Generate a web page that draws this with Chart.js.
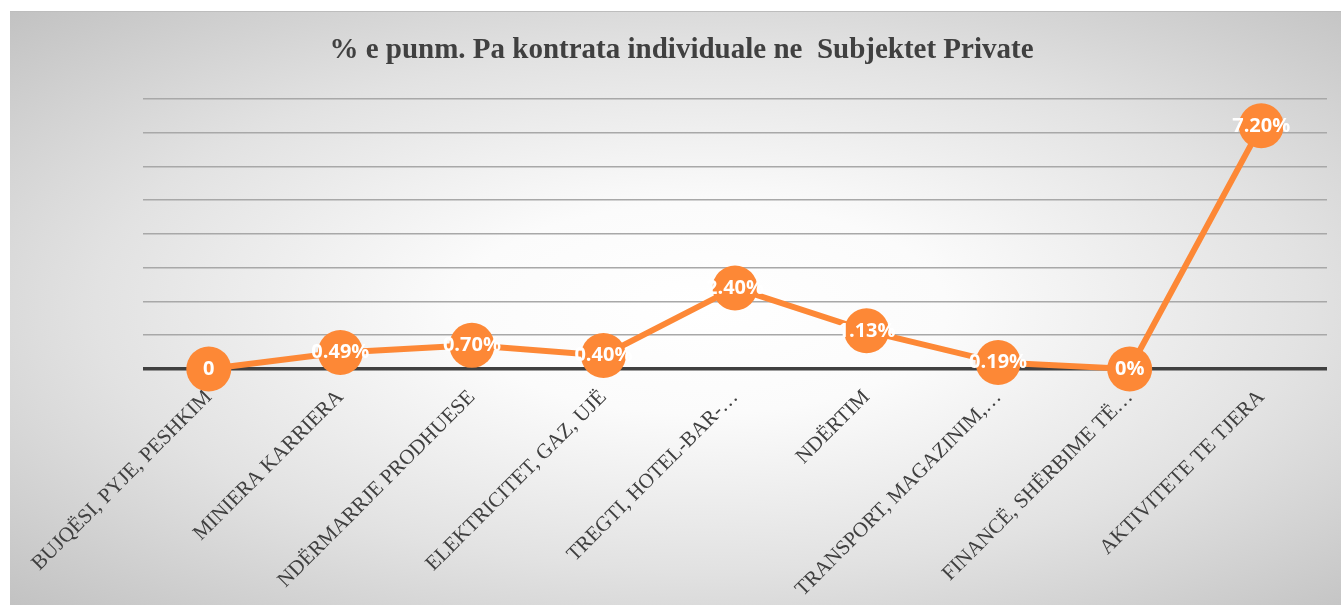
<!DOCTYPE html>
<html>
<head>
<meta charset="utf-8">
<script src="https://cdn.jsdelivr.net/npm/chart.js@4.4.1/dist/chart.umd.min.js"></script>
<style>
  html, body { margin: 0; padding: 0; background: #ffffff; }
  #wrap {
    position: absolute; left: 10px; top: 11px; width: 1331px; height: 594px;
    border-top: 1px solid #bdbdbd;
    background: radial-gradient(ellipse at 52% 50%, #ffffff 0%, #fbfbfb 25%, #e2e2e2 62%, #c2c2c2 100%);
  }
  canvas { display: block; }
</style>
</head>
<body>
<div id="wrap"><canvas id="c" width="1331" height="594"></canvas></div>
<script>
const titleText = '% e punm. Pa kontrata individuale ne  Subjektet Private';
const categories = [
  'BUJQËSI, PYJE, PESHKIM',
  'MINIERA KARRIERA',
  'NDËRMARRJE PRODHUESE',
  'ELEKTRICITET, GAZ, UJË',
  'TREGTI, HOTEL-BAR-…',
  'NDËRTIM',
  'TRANSPORT, MAGAZINIM,…',
  'FINANCË, SHËRBIME TË…',
  'AKTIVITETE TE TJERA'
];
const values = [0, 0.49, 0.70, 0.40, 2.40, 1.13, 0.19, 0, 7.20];
const valueLabels = ['0', '0.49%', '0.70%', '0.40%', '2.40%', '1.13%', '0.19%', '0%', '7.20%'];
const yMin = 0, yMax = 8, yStep = 1;

const lineColor = '#fd8836';

const pointLabelPlugin = {
  id: 'pointLabels',
  afterDatasetsDraw(chart) {
    const ctx = chart.ctx;
    const meta = chart.getDatasetMeta(0);
    ctx.save();
    ctx.font = 'bold 20px "Open Sans", sans-serif';
    ctx.fillStyle = '#ffffff';
    ctx.textAlign = 'center';
    ctx.textBaseline = 'middle';
    meta.data.forEach((pt, i) => {
      ctx.fillText(valueLabels[i], pt.x, pt.y);
    });
    ctx.restore();
  }
};

new Chart(document.getElementById('c'), {
  type: 'line',
  data: {
    labels: categories,
    datasets: [{
      data: values,
      borderColor: lineColor,
      backgroundColor: lineColor,
      borderWidth: 6,
      pointRadius: 22.5,
      pointHoverRadius: 22.5,
      pointBackgroundColor: lineColor,
      pointBorderWidth: 0,
      tension: 0,
      clip: false
    }]
  },
  options: {
    responsive: false,
    animation: false,
    events: [],
    layout: { autoPadding: false, padding: { left: 26, right: 14, top: 0, bottom: 0 } },
    plugins: {
      legend: { display: false },
      tooltip: { enabled: false },
      title: {
        display: true,
        text: titleText,
        color: '#404040',
        font: { family: '"Liberation Serif", "Times New Roman", serif', size: 29, weight: 'bold', lineHeight: 1.2 },
        padding: { top: 21, bottom: 31 }
      }
    },
    scales: {
      x: {
        offset: true,
        grid: { display: false, drawTicks: false },
        border: { display: false },
        ticks: {
          autoSkip: false,
          maxRotation: 45,
          minRotation: 45,
          padding: 16,
          color: '#404040',
          font: { family: '"Liberation Serif", "Times New Roman", serif', size: 21 }
        },
        afterFit(scale) { scale.height = 237; scale.paddingRight = 0; scale.paddingLeft = 0; }
      },
      y: {
        min: yMin,
        max: yMax,
        ticks: { display: false, stepSize: yStep },
        border: { display: false },
        grid: {
          drawTicks: false,
          color: (c) => c.tick && c.tick.value === 0 ? '#404040' : '#a8a8a8',
          lineWidth: (c) => c.tick && c.tick.value === 0 ? 3.5 : 1.5
        },
        afterFit(scale) { scale.width = 107; }
      }
    }
  },
  plugins: [pointLabelPlugin]
});
</script>
</body>
</html>
